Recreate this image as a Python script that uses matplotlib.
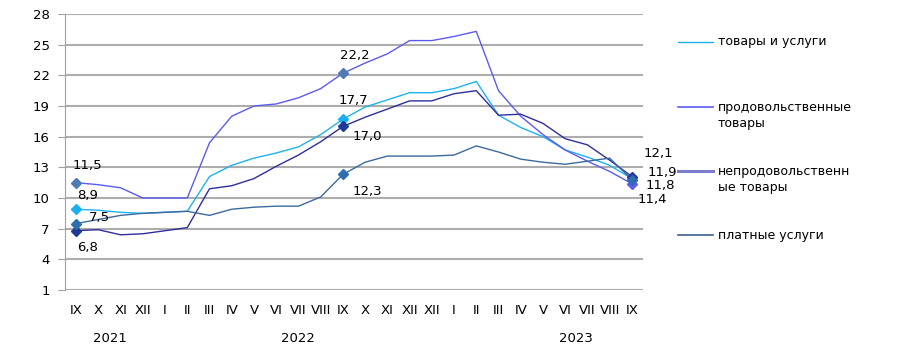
import matplotlib
matplotlib.use("Agg")
import matplotlib.pyplot as plt
from matplotlib.lines import Line2D

months = ["IX", "X", "XI", "XII", "I", "II", "III", "IV", "V", "VI", "VII", "VIII", "IX",
          "X", "XI", "XII", "XII", "I", "II", "III", "IV", "V", "VI", "VII", "VIII", "IX"]
years = ["2021", "2022", "2023"]
year_pos = [1.5, 10.0, 22.5]

tov_usl = [8.9, 8.8, 8.6, 8.5, 8.6, 8.7, 12.1, 13.2, 13.9, 14.4, 15.0, 16.2, 17.7,
           18.9, 19.6, 20.3, 20.3, 20.7, 21.4, 18.1, 16.9, 16.0, 14.7, 14.0, 13.2, 11.9]
prod = [11.5, 11.3, 11.0, 10.0, 10.0, 10.0, 15.4, 18.0, 19.0, 19.2, 19.8, 20.7, 22.2,
        23.2, 24.1, 25.4, 25.4, 25.8, 26.3, 20.5, 18.0, 16.2, 14.7, 13.6, 12.6, 11.4]
neprod = [6.8, 6.9, 6.4, 6.5, 6.8, 7.1, 10.9, 11.2, 11.9, 13.1, 14.2, 15.5, 17.0,
          17.9, 18.7, 19.5, 19.5, 20.2, 20.5, 18.1, 18.2, 17.3, 15.8, 15.2, 13.7, 12.1]
usl = [7.5, 7.9, 8.3, 8.5, 8.6, 8.7, 8.3, 8.9, 9.1, 9.2, 9.2, 10.1, 12.3,
       13.5, 14.1, 14.1, 14.1, 14.2, 15.1, 14.5, 13.8, 13.5, 13.3, 13.6, 13.9, 11.8]

labels = ["товары и услуги", "продовольственные\nтовары",
          "непродовольственн\nые товары", "платные услуги"]
marked = [0, 12, 25]

# per series: line colour, marker colours at marked points, legend colour/width
styles = [
    ("#1EB2EE", ["#1AAFF0", "#1AAFF0", "#1AAFF0"], "#1EB2EE", 1.0),
    ("#5B5BEF", ["#4E7AB5", "#4E7AB5", "#5D5DF0"], "#5B5BEF", 1.2),
    ("#2E2E9C", ["#1F3A96", "#1F3A96", "#1F3A96"], "#7C7CCC", 2.2),
    ("#3C6A9E", ["#2E6DB0", "#2E6DB0", "#2E6DB0"], "#3A5F95", 1.2),
]
# label offsets (pixels) for marked points
offsets = [
    [(11, 14), (10, 19), (30, 6)],
    [(11, 17), (12, 18), (20, -16)],
    [(11, -17), (24, -10), (26, 23)],
    [(23, 6), (24, -17), (28, -6)],
]

fig = plt.figure(figsize=(9.02, 3.54), dpi=100)
ax = fig.add_axes([65 / 902, 1 - 290 / 354, (643 - 65) / 902, (290 - 14) / 354])

xs = list(range(len(months)))
series = [tov_usl, prod, neprod, usl]
for s, (col, mcols, lcol, lw), offs in zip(series, styles, offsets):
    ax.plot(xs, s, color=col, lw=1.0, zorder=3)
    for k, i in enumerate(marked):
        ax.plot(xs[i], s[i], marker="D", ms=5.5, color=mcols[k], mec=mcols[k], zorder=4)
        ax.annotate(f"{s[i]:.1f}".replace(".", ","), (xs[i], s[i]),
                    xytext=offs[k], textcoords="offset pixels",
                    ha="center", va="center", fontsize=9.5, color="black", zorder=5)

ax.set_xlim(-0.5, len(months) - 0.5)
ax.set_ylim(1, 28)
ax.set_yticks(range(1, 29, 3))
ax.yaxis.grid(True, color="#ADADAD", lw=1.5)
ax.set_axisbelow(True)
for sp in ["top", "right", "bottom"]:
    ax.spines[sp].set_visible(False)
ax.spines["left"].set_color("#A0A0A0")
ax.tick_params(axis="y", length=5, color="#A0A0A0", labelsize=9.5, pad=6)
ax.set_xticks(xs)
ax.set_xticklabels(months, fontsize=9.5)
ax.tick_params(axis="x", length=0, pad=10)

for yr, p in zip(years, year_pos):
    ax.text(p, -48 / 276, yr, transform=ax.get_xaxis_transform(), ha="center",
            va="center", fontsize=9.5)

# legend on the right
leg_y = [42, 115.5, 179.5, 235]
line_y = [42, 107, 171, 235]
for (col, mcols, lcol, lw), lab, ty, ly in zip(styles, labels, leg_y, line_y):
    fig.add_artist(Line2D([678 / 902, 713 / 902], [1 - ly / 354] * 2, color=lcol, lw=lw))
    fig.text(718 / 902, 1 - ty / 354, lab, ha="left", va="center", fontsize=9,
             linespacing=1.35)

fig.savefig("out.png", dpi=100)
